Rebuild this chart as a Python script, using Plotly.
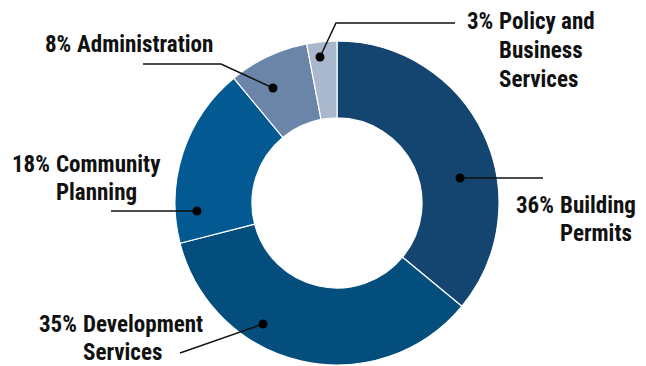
import plotly.graph_objects as go

# Data
categories = ["Building Permits", "Development Services", "Community Planning",
              "Administration", "Policy and Business Services"]
percents = [36, 35, 18, 8, 3]
# label lines after the percentage (hanging indent)
label_lines = [["Building", "Permits"], ["Development", "Services"],
               ["Community", "Planning"], ["Administration"],
               ["Policy and", "Business", "Services"]]
colors = ["#134570", "#034e7d", "#035a93", "#6a85a8", "#aab8cd"]

W, H = 646, 366


def px(x, y):
    return x / W, 1 - y / H


fig = go.Figure()
fig.add_trace(go.Pie(
    labels=categories, values=percents, sort=False, direction="clockwise",
    rotation=0, hole=0.525, textinfo="none", hoverinfo="label+percent",
    marker=dict(colors=colors, line=dict(color="white", width=1.2)),
    domain=dict(x=[175 / W, 499 / W], y=[1 - 365 / H, 1 - 41 / H]),
    showlegend=False,
))

font = dict(family="Roboto Condensed, Liberation Sans Narrow, Roboto, sans-serif",
            size=23, color="#111111", weight="bold")

# placement (pixels): indent x of text, middle y of first line, line step
label_pos = [
    (559, 205, 28),
    (82, 323.5, 28),
    (55, 163.5, 28),
    (76, 43.5, 28),
    (498, 21.5, 28.5),
]
annotations = []
for pct, lines, (xi, y0, step) in zip(percents, label_lines, label_pos):
    yy = y0 + 0.5
    ax, ay = px(xi - 4, yy)
    annotations.append(dict(x=ax, y=ay, xref="paper", yref="paper", text=f"{pct}%",
                            showarrow=False, xanchor="right", yanchor="middle",
                            borderpad=0, font=font))
    for i, ln in enumerate(lines):
        ax, ay = px(xi, yy + i * step)
        annotations.append(dict(x=ax, y=ay, xref="paper", yref="paper", text=ln,
                                showarrow=False, xanchor="left", yanchor="middle",
                                borderpad=0, font=font))

# leader lines (pixel polylines) ending at dots
leaders = [
    [(543, 178), (460, 178)],
    [(180, 353), (263, 324)],
    [(111, 211), (197, 211)],
    [(143, 64), (221, 64), (273, 88)],
    [(455, 23), (336, 23), (320, 57)],
]
shapes = []
for pts in leaders:
    path = ""
    for i, (x, y) in enumerate(pts):
        X, Y = px(x, y)
        path += ("M" if i == 0 else "L") + f"{X},{Y} "
    shapes.append(dict(type="path", path=path.strip(), xref="paper", yref="paper",
                       line=dict(color="#111111", width=1.5)))
    dx, dy = pts[-1]
    r = 4.5
    x0, y0 = px(dx - r, dy + r)
    x1, y1 = px(dx + r, dy - r)
    shapes.append(dict(type="circle", xref="paper", yref="paper",
                       x0=x0, y0=y0, x1=x1, y1=y1,
                       fillcolor="#000000", line=dict(color="#000000", width=0)))

fig.update_layout(
    width=W, height=H, margin=dict(l=0, r=0, t=0, b=0),
    paper_bgcolor="white", plot_bgcolor="white",
    annotations=annotations, shapes=shapes,
)

fig.write_html("out.html", config={"displayModeBar": False},
               post_script="document.body.style.margin='0px';")
